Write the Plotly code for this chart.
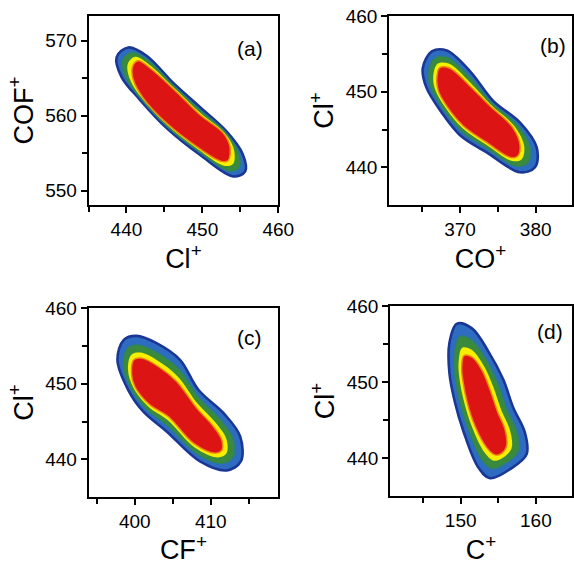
import plotly.graph_objects as go

# ---------------- data: contour outlines (data units) ----------------
# panel (a): x = Cl+, y = COF+
a_outer = [(438.71, 567.82), (440.24, 569.11), (442.65, 568.0), (446.16, 564.36), (449.67, 561.16),
           (453.18, 557.91), (455.29, 554.93), (455.64, 552.58), (454.06, 551.91), (449.67, 554.8),
           (445.29, 558.36), (441.78, 562.13), (439.36, 565.16)]
a_green = [(439.44, 567.39), (440.7, 568.49), (442.81, 567.42), (446.24, 564.01), (449.67, 560.8),
           (453.03, 557.83), (454.7, 555.28), (454.85, 553.09), (453.52, 552.61), (449.52, 555.19),
           (445.29, 558.59), (441.93, 562.21), (439.9, 565.03)]
a_yellow = [(440.18, 566.95), (441.16, 567.87), (442.96, 566.85), (446.32, 563.67), (449.67, 560.44),
            (452.87, 557.76), (454.12, 555.62), (454.07, 553.6), (452.98, 553.31), (449.36, 555.58),
            (445.29, 558.82), (442.08, 562.29), (440.44, 564.91)]
a_red = [(440.81, 566.58), (441.56, 567.33), (443.09, 566.36), (446.38, 563.38), (449.67, 560.13),
         (452.74, 557.69), (453.62, 555.91), (453.4, 554.04), (452.52, 553.91), (449.23, 555.91),
         (445.29, 559.02), (442.22, 562.36), (440.9, 564.8)]

# panel (b): x = CO+, y = Cl+
b_outer = [(365.07, 453.16), (366.26, 455.35), (368.24, 455.48), (371.32, 452.72), (374.41, 448.77),
           (377.93, 445.92), (380.13, 442.63), (379.91, 440.0), (377.93, 439.34), (373.52, 441.97),
           (370.0, 444.25), (367.58, 447.24), (365.51, 450.66)]
b_green = [(365.81, 452.54), (366.66, 454.47), (368.38, 454.55), (371.32, 451.93), (374.23, 448.51),
           (377.54, 445.66), (379.25, 442.72), (378.98, 440.58), (377.4, 440.13), (373.52, 442.5),
           (370.18, 444.75), (367.84, 447.59), (366.16, 450.43)]
b_yellow = [(366.45, 452.0), (367.02, 453.71), (368.5, 453.74), (371.32, 451.24), (374.07, 448.28),
            (377.2, 445.43), (378.48, 442.79), (378.16, 441.08), (376.94, 440.82), (373.52, 442.96),
            (370.33, 445.18), (368.07, 447.89), (366.73, 450.23)]
b_red = [(366.92, 451.62), (367.27, 453.16), (368.59, 453.16), (371.32, 450.75), (373.96, 448.11),
         (376.96, 445.26), (377.93, 442.85), (377.58, 441.45), (376.61, 441.32), (373.52, 443.29),
         (370.44, 445.48), (368.24, 448.11), (367.14, 450.09)]

# panel (c): x = CF+, y = Cl+
c_outer = [(397.71, 453.18), (398.55, 455.83), (400.22, 456.36), (402.86, 455.39), (405.95, 453.18),
           (408.37, 449.21), (411.89, 445.89), (413.88, 443.02), (413.96, 439.71), (412.11, 438.52),
           (408.59, 439.71), (404.19, 443.69), (401.1, 446.34), (399.12, 449.21)]
c_green = [(398.45, 452.47), (399.07, 454.77), (400.48, 455.17), (402.95, 454.15), (405.77, 452.03),
           (408.41, 448.23), (411.28, 445.28), (412.91, 442.85), (412.96, 440.3), (411.5, 439.44),
           (408.24, 440.68), (404.27, 444.48), (401.45, 446.69), (399.47, 449.38)]
c_yellow = [(399.1, 451.85), (399.54, 453.84), (400.72, 454.14), (403.03, 453.07), (405.62, 451.02),
            (408.26, 447.38), (410.74, 444.73), (412.06, 442.69), (412.08, 440.8), (410.96, 440.24),
            (407.93, 441.53), (404.35, 445.17), (401.76, 447.0), (399.78, 449.54)]
c_red = [(399.56, 451.41), (399.87, 453.18), (400.88, 453.4), (403.08, 452.3), (405.51, 450.31),
         (408.15, 446.78), (410.35, 444.35), (411.45, 442.58), (411.45, 441.17), (410.57, 440.82),
         (407.71, 442.14), (404.41, 445.67), (401.98, 447.22), (400.0, 449.65)]

# panel (d): x = C+, y = Cl+
d_outer = [(148.5, 455.16), (149.47, 457.7), (151.46, 457.13), (153.67, 454.07), (155.66, 450.35),
           (156.99, 446.63), (158.54, 443.35), (158.76, 440.5), (156.55, 438.53), (153.89, 437.35),
           (152.35, 438.75), (150.35, 443.57), (149.25, 447.29), (148.5, 451.23)]
d_green = [(149.15, 453.85), (149.86, 456.02), (151.46, 455.61), (153.32, 453.11), (154.96, 449.82),
           (156.14, 446.46), (157.48, 443.52), (157.7, 440.94), (156.11, 439.37), (154.16, 438.58),
           (152.79, 439.8), (150.97, 443.83), (149.9, 447.29), (149.2, 450.88)]
d_yellow = [(149.73, 452.7), (150.2, 454.55), (151.46, 454.28), (153.01, 452.26), (154.34, 449.37),
            (155.4, 446.3), (156.55, 443.68), (156.77, 441.32), (155.72, 440.11), (154.39, 439.65),
            (153.18, 440.72), (151.52, 444.06), (150.48, 447.29), (149.82, 450.57)]
d_red = [(150.13, 451.88), (150.44, 453.5), (151.46, 453.33), (152.79, 451.66), (153.89, 449.04),
         (154.87, 446.19), (155.88, 443.79), (156.11, 441.6), (155.44, 440.63), (154.56, 440.42),
         (153.45, 441.38), (151.9, 444.22), (150.88, 447.29), (150.27, 450.35)]

# axis ranges and ticks
a_xrange, a_yrange = [435, 460], [548.1, 573.3]
b_xrange, b_yrange = [360.6, 384.8], [435, 460.05]
c_xrange, c_yrange = [393.9, 418.9], [435, 460.05]
d_xrange, d_yrange = [140.6, 164.8], [435, 460.05]
a_xticks, a_yticks = [440, 450, 460], [550, 560, 570]
b_xticks, b_yticks = [370, 380], [440, 450, 460]
c_xticks, c_yticks = [400, 410], [440, 450, 460]
d_xticks, d_yticks = [150, 160], [440, 450, 460]
a_xminor, a_yminor = [435, 445, 455], [555, 565]
b_xminor, b_yminor = [365, 375], [445, 455]
c_xminor, c_yminor = [395, 405, 415], [445, 455]
d_xminor, d_yminor = [145, 155], [445, 455]

a_titles = ("Cl<sup>+</sup>", "COF<sup>+</sup>")
b_titles = ("CO<sup>+</sup>", "Cl<sup>+</sup>")
c_titles = ("CF<sup>+</sup>", "Cl<sup>+</sup>")
d_titles = ("C<sup>+</sup>", "Cl<sup>+</sup>")
panel_labels = ["(a)", "(b)", "(c)", "(d)"]

# ---------------- styling ----------------
W, H = 574, 565
FONT = "Liberation Sans, Arial, sans-serif"
level_fill = ["#2e6cc2", "#3a8a3d", "#f7ef00", "#dc1414"]
level_line = ["#1b3795", "#2c8070", "#f7ef00", "#f08010"]
level_lw = [2.6, 1.2, 0, 1.4]

# pixel boxes of each plot area: (left, right, top, bottom)
boxes = [(88.5, 278.3, 16, 205), (389, 572, 16, 205), (88.5, 278.3, 308, 497), (390, 572, 306, 496)]
label_pos = [(250, 48), (553, 45), (250, 337), (550, 331)]

panels = [
    ([a_outer, a_green, a_yellow, a_red], a_xrange, a_yrange, a_xticks, a_yticks, a_xminor, a_yminor, a_titles),
    ([b_outer, b_green, b_yellow, b_red], b_xrange, b_yrange, b_xticks, b_yticks, b_xminor, b_yminor, b_titles),
    ([c_outer, c_green, c_yellow, c_red], c_xrange, c_yrange, c_xticks, c_yticks, c_xminor, c_yminor, c_titles),
    ([d_outer, d_green, d_yellow, d_red], d_xrange, d_yrange, d_xticks, d_yticks, d_xminor, d_yminor, d_titles),
]

fig = go.Figure()
layout = dict(width=W, height=H, autosize=False, margin=dict(l=0, r=0, t=0, b=0, pad=0, autoexpand=False),
              paper_bgcolor="white", plot_bgcolor="white", showlegend=False, annotations=[])

for i, (levels, xr, yr, xt, yt, xm, ym, titles) in enumerate(panels):
    n = "" if i == 0 else str(i + 1)
    for k, poly in enumerate(levels):
        xs = [p[0] for p in poly] + [poly[0][0]]
        ys = [p[1] for p in poly] + [poly[0][1]]
        fig.add_trace(go.Scatter(
            x=xs, y=ys, mode="lines", fill="toself", fillcolor=level_fill[k],
            line=dict(color=level_line[k], width=level_lw[k], shape="spline", smoothing=1.0),
            xaxis="x" + n, yaxis="y" + n, hoverinfo="skip"))
    l, r, t, b = boxes[i]
    common = dict(showline=True, linecolor="black", linewidth=1.6, mirror=True, showgrid=False,
                  zeroline=False, ticks="outside", ticklen=6, tickwidth=1.6, tickcolor="black",
                  automargin=False, tickfont=dict(family=FONT, size=19, color="black"))
    layout["xaxis" + n] = dict(common, domain=[l / W, r / W], range=xr, tickvals=xt, anchor="y" + n,
                               minor=dict(tickvals=xm, ticks="outside", ticklen=5, tickwidth=1.6, tickcolor="black"),
                               title=dict(text=titles[0], font=dict(family=FONT, size=27, color="black"), standoff=2))
    layout["yaxis" + n] = dict(common, domain=[1 - b / H, 1 - t / H], range=yr, tickvals=yt, anchor="x" + n,
                               minor=dict(tickvals=ym, ticks="outside", ticklen=5, tickwidth=1.6, tickcolor="black"),
                               title=dict(text=titles[1], font=dict(family=FONT, size=27, color="black"), standoff=4))
    lx, ly = label_pos[i]
    layout["annotations"].append(dict(text=panel_labels[i], x=lx / W, y=1 - ly / H, xref="paper", yref="paper",
                                      showarrow=False, font=dict(family=FONT, size=21, color="black"),
                                      xanchor="center", yanchor="middle"))

fig.update_layout(**layout)
fig.write_html("out.html", config={"displayModeBar": False},
               post_script="document.body.style.margin='0px';")
